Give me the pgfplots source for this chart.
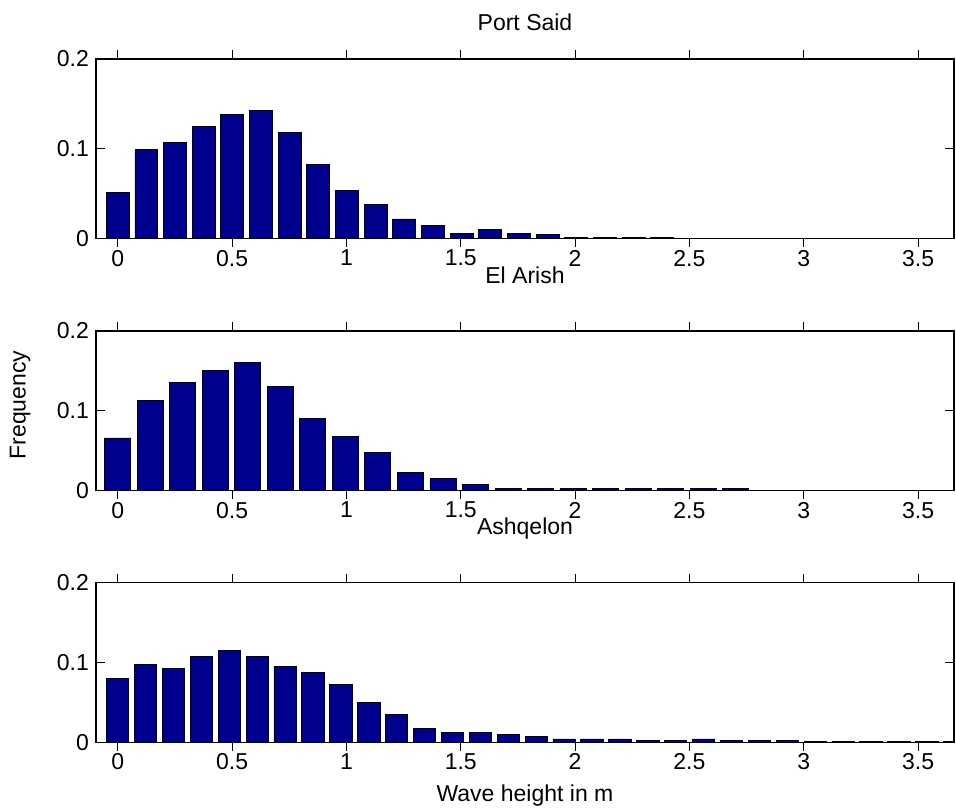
\documentclass[border=0pt]{standalone}
\usepackage{fontspec}
\setmainfont{Liberation Sans}
\usepackage{pgfplots}
\pgfplotsset{compat=1.18}
\definecolor{barblue}{RGB}{0,0,143}
\newcommand{\chartfont}{\fontsize{11.5}{13}\selectfont}
\pgfplotsset{
  panel/.style={
    scale only axis, width=429pt,
    xmin=-0.095, xmax=3.657, ymin=0, ymax=0.2,
    xtick={0,0.5,1,1.5,2,2.5,3,3.5},
    xticklabels={0,0.5,1,1.5,2,2.5,3,3.5},
    ytick={0,0.1,0.2}, yticklabels={0,0.1,0.2},
    tick align=inside, tick pos=both, major tick length=4.3pt,
    axis line style={line width=0.8pt},
    every tick/.style={black, line width=0.5pt},
    ticklabel style={font=\chartfont},
    xticklabel style={yshift=2.2pt},
    ybar, anchor=south west,
  },
  bars/.style={fill=barblue, draw=black, line width=0.4pt},
}
\begin{document}
\begin{tikzpicture}
\useasboundingbox (0,0) rectangle (478pt,404pt);
% Port Said
\begin{axis}[panel, at={(48pt,284.65pt)}, height=89.85pt]
\addplot[bars, bar width=0.1002] coordinates {
(0,0.051) (0.1253,0.099) (0.2506,0.107) (0.3759,0.125) (0.5012,0.138)
(0.6265,0.143) (0.7518,0.118) (0.8771,0.083) (1.0024,0.054) (1.1277,0.038)
(1.2530,0.022) (1.3783,0.015) (1.5036,0.006) (1.6289,0.010) (1.7542,0.006)
(1.8795,0.0048) (2.0048,0.0018) (2.1301,0.0015) (2.2554,0.0015) (2.3807,0.0015)
};
\end{axis}
% El Arish
\begin{axis}[panel, at={(48pt,158.65pt)}, height=79.85pt]
\addplot[bars, bar width=0.1138] coordinates {
(0,0.066) (0.1422,0.113) (0.2844,0.136) (0.4266,0.151) (0.5688,0.161)
(0.7110,0.131) (0.8532,0.091) (0.9954,0.068) (1.1376,0.048) (1.2798,0.023)
(1.4220,0.015) (1.5642,0.008) (1.7064,0.0025) (1.8486,0.0025) (1.9908,0.0025)
(2.1330,0.0025) (2.2752,0.0025) (2.4174,0.0025) (2.5596,0.0025) (2.7018,0.0025)
};
\end{axis}
% Ashqelon
\begin{axis}[panel, at={(48pt,32.85pt)}, height=79.8pt]
\addplot[bars, bar width=0.0976] coordinates {
(0,0.080) (0.122,0.098) (0.244,0.093) (0.366,0.108) (0.488,0.115)
(0.610,0.108) (0.732,0.095) (0.854,0.088) (0.976,0.073) (1.098,0.050)
(1.220,0.035) (1.342,0.0173) (1.464,0.0122) (1.586,0.0122) (1.708,0.0096)
(1.830,0.0071) (1.952,0.0042) (2.074,0.0042) (2.196,0.0042) (2.318,0.002)
(2.440,0.002) (2.562,0.0042) (2.684,0.002) (2.806,0.002) (2.928,0.002)
(3.050,0.0015) (3.172,0.0015) (3.294,0.0015) (3.416,0.0015) (3.538,0.0015)
(3.660,0.0015)
};
\end{axis}
\begin{scope}[every node/.style={font=\chartfont, inner sep=0pt}]
\node[anchor=base] at (262.5pt,388.9pt) {Port Said};
\node[anchor=base] at (262.5pt,262.4pt) {El Arish};
\node[anchor=base] at (262.5pt,136.9pt) {Ashqelon};
\node[anchor=base] at (262.5pt,3.5pt) {Wave height in m};
\node[anchor=base, rotate=90] at (12.75pt,201.5pt) {Frequency};
\end{scope}
\end{tikzpicture}
\end{document}
